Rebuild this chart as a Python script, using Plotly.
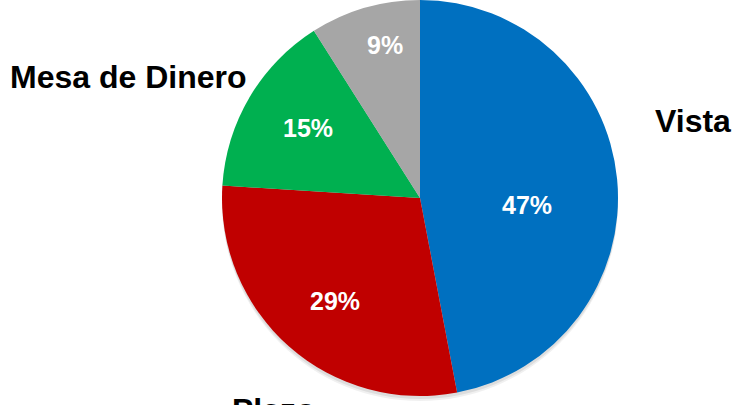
import plotly.graph_objects as go

# Distribution by product
categories = ["Vista", "Plazo", "Mesa de Dinero", "Otros"]
shares = [47, 29, 15, 9]
colors = ["#0070C0", "#C00000", "#00B050", "#A6A6A6"]

W, H = 741, 405
font_family = "Liberation Sans, Arial, sans-serif"

fig = go.Figure()

# Soft drop shadow under the pie
for off, alpha in [(5, 0.06), (3, 0.08)]:
    fig.add_trace(go.Pie(
        values=[1],
        marker=dict(colors=[f"rgba(0,0,0,{alpha})"], line=dict(width=0)),
        textinfo="none",
        hoverinfo="skip",
        showlegend=False,
        sort=False,
        domain=dict(x=[220 / W, 620 / W], y=[(9 - off) / H, 1.0 - off / H]),
    ))

fig.add_trace(go.Pie(
    labels=categories,
    values=shares,
    sort=False,
    direction="clockwise",
    rotation=0,
    marker=dict(colors=colors, line=dict(width=0)),
    textinfo="none",
    hoverinfo="label+percent",
    showlegend=False,
    domain=dict(x=[220 / W, 620 / W], y=[9 / H, 1.0]),
))

# Percentage labels inside each slice
pct_font = dict(family=font_family, size=25, color="white", weight="bold")
pct_pos = [(527, 205), (335, 301), (308, 128), (385, 45)]
for val, (px, py) in zip(shares, pct_pos):
    fig.add_annotation(
        text=f"{val}%", x=px / W, y=1 - py / H, xref="paper", yref="paper",
        xanchor="center", yanchor="middle", showarrow=False, font=pct_font,
    )

# Category names placed around the pie
name_font = dict(family=font_family, size=32, color="black", weight="bold")
name_pos = {
    "Vista": (693, 121),
    "Mesa de Dinero": (128, 77),
    "Plazo": (274, 410),
}
for name, (px, py) in name_pos.items():
    fig.add_annotation(
        text=name, x=px / W, y=1 - py / H, xref="paper", yref="paper",
        xanchor="center", yanchor="middle", showarrow=False, font=name_font,
    )

fig.update_layout(
    width=W, height=H,
    margin=dict(l=0, r=0, t=0, b=0),
    paper_bgcolor="white",
    plot_bgcolor="white",
)

fig.write_html("out.html")
